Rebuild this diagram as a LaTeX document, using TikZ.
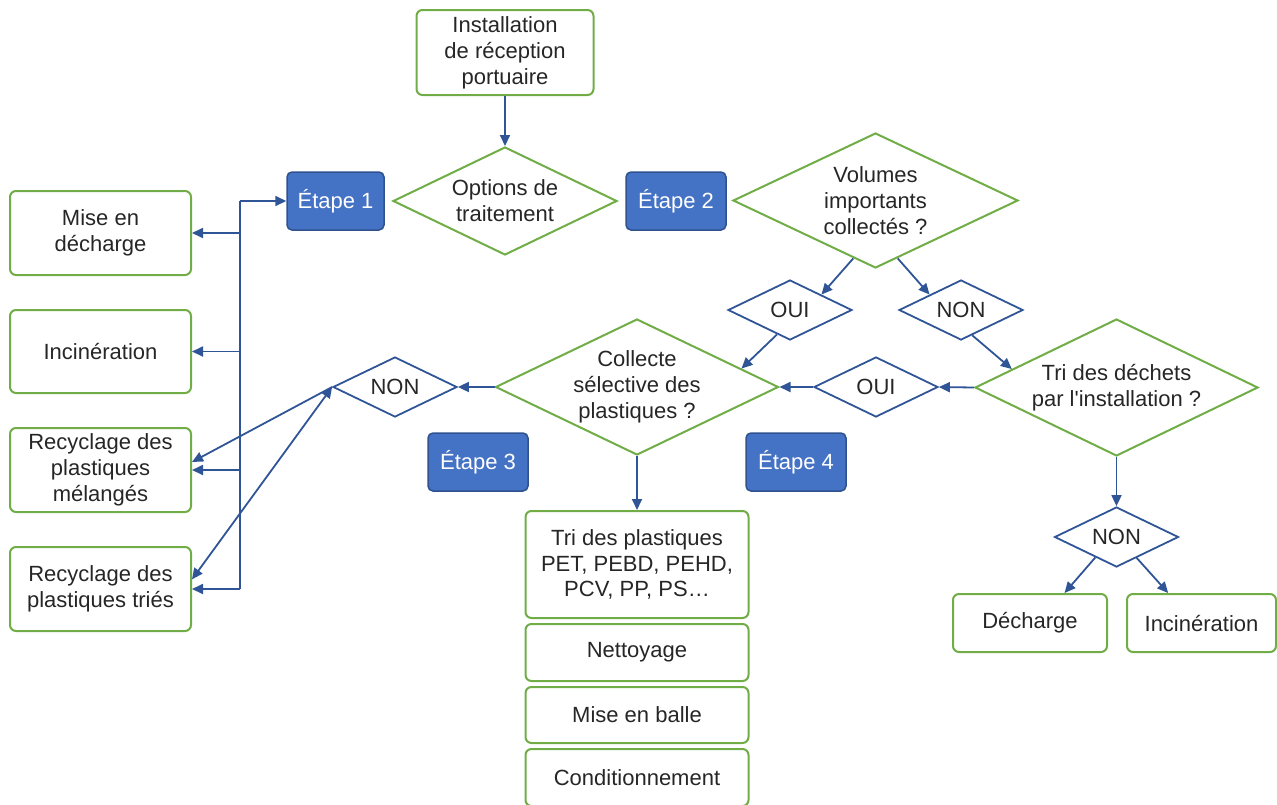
\documentclass[tikz,border=0pt]{standalone}
\usepackage{fontspec}
\setmainfont{Liberation Sans}
\usepackage{tikz}
\usetikzlibrary{shapes.geometric,arrows.meta}

\definecolor{leaf}{HTML}{70AD47}
\definecolor{ink}{HTML}{2F5597}
\definecolor{stagefill}{HTML}{4472C4}
\definecolor{stageline}{HTML}{2F528F}
\definecolor{textgray}{HTML}{262626}

\tikzset{
  box/.style = {shape = rectangle, draw = leaf, line width = 2pt, rounded corners = 6pt, align = center, inner sep = 0pt},
  stage/.style = {shape = rectangle, draw = stageline, fill = stagefill, line width = 1.5pt, rounded corners = 5pt, text = white, inner sep = 0pt, minimum height = 58pt},
  diam/.style = {shape = diamond, draw = leaf, line width = 2pt, aspect = 2, inner sep = -10pt, align = center},
  choice/.style = {shape = diamond, draw = ink, line width = 1.8pt, aspect = 2, inner sep = 0pt, minimum width = 124pt, minimum height = 60pt},
  conn/.style = {draw = ink, line width = 1.8pt, -{Triangle[length=11pt, width=10pt]}},
  bothconn/.style = {draw = ink, line width = 1.8pt, {Triangle[length=11pt, width=10pt]}-{Triangle[length=11pt, width=10pt]}},
  plain/.style = {draw = ink, line width = 1.8pt}
}

\begin{document}
\begin{tikzpicture}[x = 1pt, y = -1pt, every node/.style = {font = \fontsize{22}{26}\selectfont, text = textgray}]
\useasboundingbox (0,0) rectangle (1277,804);

% top of the chart
\node (inst) at (505,52.5) [box, minimum width = 177pt, minimum height = 85pt] {Installation\\de réception\\portuaire};
\node (opt) at (505,201) [diam, minimum width = 224pt, minimum height = 108pt] {Options de\\traitement};
\node (vol) at (875.5,200.5) [diam, minimum width = 285pt, minimum height = 135pt] {Volumes\\importants\\collectés ?};

% stages
\node (et1) at (335.5,201) [stage, minimum width = 97pt] {Étape 1};
\node (et2) at (676,201) [stage, minimum width = 100pt] {Étape 2};
\node (et3) at (478,462) [stage, minimum width = 100pt] {Étape 3};
\node (et4) at (796,462) [stage, minimum width = 100pt] {Étape 4};

% yes / no
\node (oui1) at (790,310) [choice] {OUI};
\node (non1) at (961,310) [choice] {NON};
\node (nonl) at (395,387) [choice] {NON};
\node (oui2) at (876,387) [choice] {OUI};
\node (nonb) at (1116.5,537) [choice] {NON};

% questions
\node (col) at (637,387) [diam, minimum width = 283pt, minimum height = 136pt] {Collecte\\sélective des\\plastiques ?};
\node (tri) at (1116.5,387.5) [diam, minimum width = 283pt, minimum height = 137pt] {Tri des déchets\\par l\textquotesingle installation ?};

% left column
\node (mise) at (100.5,233) [box, minimum width = 181pt, minimum height = 84pt] {Mise en\\décharge};
\node (incl) at (100.5,351.5) [box, minimum width = 181pt, minimum height = 83pt] {Incinération};
\node (rmel) at (100.5,470) [box, minimum width = 181pt, minimum height = 84pt] {Recyclage des\\plastiques\\mélangés};
\node (rtri) at (100.5,589) [box, minimum width = 181pt, minimum height = 84pt] {Recyclage des\\plastiques triés};

% plastics chain
\node (tpl) at (637,564.5) [box, minimum width = 223pt, minimum height = 107pt, font = \fontsize{22}{25.5}\selectfont] {Tri des plastiques\\PET, PEBD, PEHD,\\PCV, PP, PS…};
\node (net) at (637,652.5) [box, minimum width = 223pt, minimum height = 57pt] {Nettoyage};
\node (bal) at (637,715) [box, minimum width = 223pt, minimum height = 56pt] {Mise en balle};
\node (cond) at (637,777.5) [box, minimum width = 223pt, minimum height = 57pt] {Conditionnement};

% right bottom
\node (dech) at (1030,623) [box, minimum width = 154pt, minimum height = 58pt] {Décharge};
\node (incr) at (1201.5,623) [box, minimum width = 149pt, minimum height = 58pt] {Incinération};

\coordinate (bus) at (240,201);

\path (inst)edge [conn] (opt);
\path (bus)edge [conn] (et1.west);
\path (bus)edge [plain] (bus |- rtri.east);
\path (bus |- mise.east)edge [conn] (mise.east);
\path (bus |- incl.east)edge [conn] (incl.east);
\path (bus |- rmel.east)edge [conn] (rmel.east);
\path (bus |- rtri.east)edge [conn] (rtri.east);
\path (vol.249)edge [conn] (oui1.north east);
\path (vol.291)edge [conn] (non1.north west);
\path (oui1.242)edge [conn] (col.10);
\path (non1.294)edge [conn] (tri.170);
\path (tri.west)edge [conn] (oui2.east);
\path (oui2.west)edge [conn] (col.east);
\path (col.west)edge [conn] (nonl.east);
\path (nonl.west)edge [conn] (rmel.5);
\path (nonl.west)edge [bothconn] (rtri.6);
\path (col.south)edge [conn] (tpl.north);
\path (tri.south)edge [conn] (nonb.north);
\path (nonb.224)edge [conn] (dech.41);
\path (nonb.314)edge [conn] (incr.138);

\end{tikzpicture}
\end{document}
